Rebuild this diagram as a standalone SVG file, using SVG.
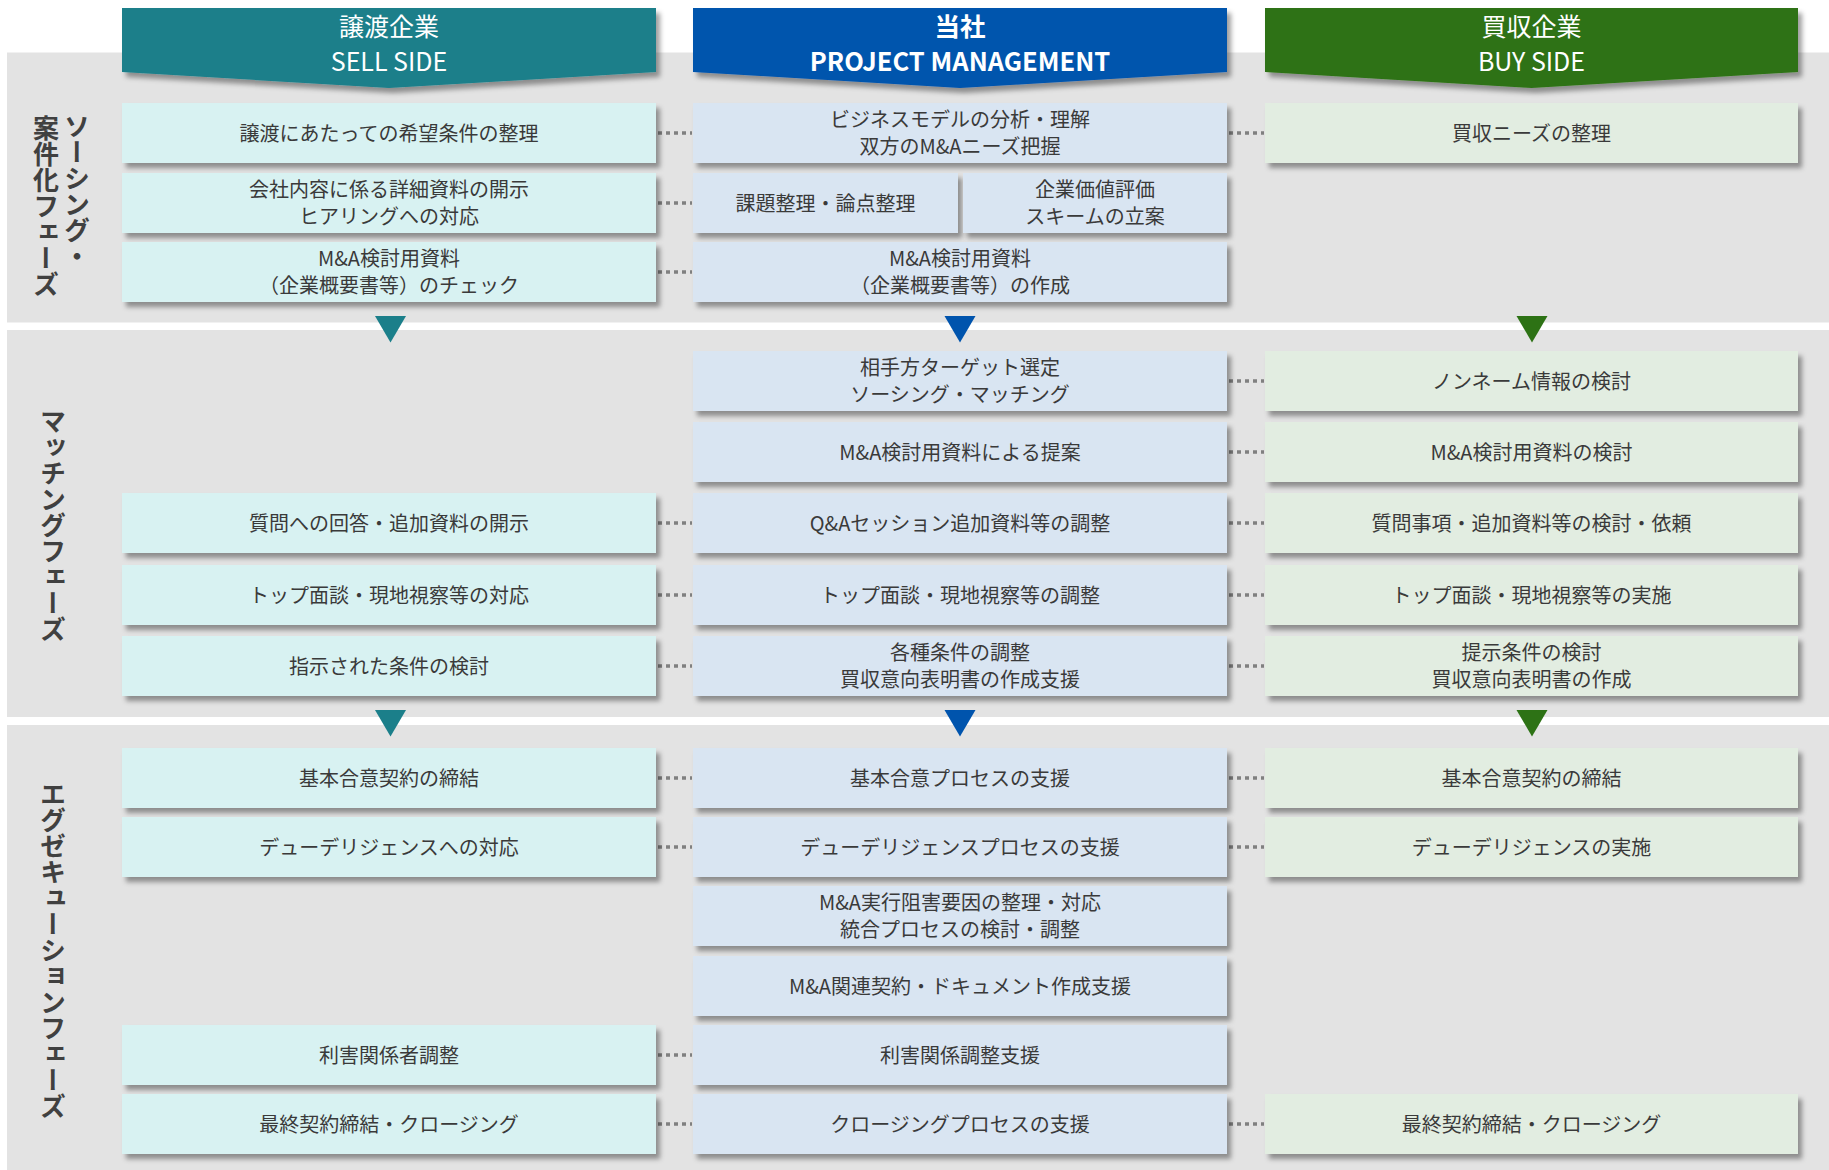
<svg xmlns="http://www.w3.org/2000/svg" width="1829" height="1170" viewBox="0 0 1829 1170">
<defs>
<filter id="sh" x="-5%" y="-20%" width="112%" height="150%">
<feDropShadow dx="4" dy="5" stdDeviation="2.5" flood-color="#000" flood-opacity="0.38"/>
</filter>
<style>
.band{fill:#e3e3e3}
.c1{fill:#d8f2f2;filter:url(#sh)}
.c2{fill:#d9e5f2;filter:url(#sh)}
.c3{fill:#e2ede1;filter:url(#sh)}
.t{font-family:"Noto Sans CJK JP","Noto Sans",sans-serif;font-size:20px;fill:#3a3a3a;text-anchor:middle}
.h{font-family:"Noto Sans CJK JP","Noto Sans",sans-serif;font-size:25px;fill:#fff;text-anchor:middle}
.hb{font-weight:bold;font-size:25.5px}
.v{font-family:"Noto Sans CJK JP",sans-serif;font-size:26px;font-weight:bold;fill:#404040;writing-mode:vertical-rl}
.dot{stroke:#808080;stroke-width:3.5;stroke-dasharray:4 4;fill:none}
</style>
</defs>
<g id="bands">
<rect class="band" x="7" y="52.5" width="1822" height="270"/>
<rect class="band" x="7" y="330" width="1822" height="387"/>
<rect class="band" x="7" y="725" width="1822" height="445"/>
</g>
<g id="phase-labels">
<text class="v" x="77" y="113">ソーシング・</text>
<text class="v" x="46" y="115">案件化フェーズ</text>
<text class="v" x="53" y="525" text-anchor="middle">マッチングフェーズ</text>
<text class="v" x="53" y="950" text-anchor="middle">エグゼキューションフェーズ</text>
</g>
<g id="header-sell">
<path d="M122 8H656V72L389 88L122 72Z" fill="#1b7f8a" filter="url(#sh)"/>
<text class="h" x="389" y="36">譲渡企業</text>
<text class="h" x="389" y="70.5">SELL SIDE</text>
</g>
<g id="header-pm">
<path d="M693 8H1227V72L960 88L693 72Z" fill="#0054ad" filter="url(#sh)"/>
<text class="h hb" x="960" y="35.5">当社</text>
<text class="h hb" x="960" y="71">PROJECT MANAGEMENT</text>
</g>
<g id="header-buy">
<path d="M1265 8H1798V72L1531.5 88L1265 72Z" fill="#2d7215" filter="url(#sh)"/>
<text class="h" x="1531.5" y="36">買収企業</text>
<text class="h" x="1531.5" y="70.5">BUY SIDE</text>
</g>
<g id="arrows">
<path d="M375 316H406L390.5 342.5Z" fill="#1b7f8a"/>
<path d="M944.5 316H975.5L960 342.5Z" fill="#0054ad"/>
<path d="M1516.5 316H1547.5L1532 342.5Z" fill="#2d7215"/>
<path d="M375 710H406L390.5 736.5Z" fill="#1b7f8a"/>
<path d="M944.5 710H975.5L960 736.5Z" fill="#0054ad"/>
<path d="M1516.5 710H1547.5L1532 736.5Z" fill="#2d7215"/>
</g>
<g id="connectors">
<path class="dot" d="M658 133H692M1229 133H1264"/>
<path class="dot" d="M658 203H692"/>
<path class="dot" d="M658 272H692"/>
<path class="dot" d="M1229 381H1264"/>
<path class="dot" d="M1229 452H1264"/>
<path class="dot" d="M658 523H692M1229 523H1264"/>
<path class="dot" d="M658 595H692M1229 595H1264"/>
<path class="dot" d="M658 666H692M1229 666H1264"/>
<path class="dot" d="M658 778H692M1229 778H1264"/>
<path class="dot" d="M658 847H692M1229 847H1264"/>
<path class="dot" d="M658 1055H692"/>
<path class="dot" d="M658 1124H692M1229 1124H1264"/>
</g>
<g id="s1-r1-sell"><rect class="c1" x="122" y="103" width="534" height="60"/><text class="t" x="389" y="140.5">譲渡にあたっての希望条件の整理</text></g>
<g id="s1-r1-pm"><rect class="c2" x="693" y="103" width="534" height="60"/><text class="t" x="960" y="127">ビジネスモデルの分析・理解</text><text class="t" x="960" y="154">双方のM&amp;Aニーズ把握</text></g>
<g id="s1-r1-buy"><rect class="c3" x="1265" y="103" width="533" height="60"/><text class="t" x="1531.5" y="140.5">買収ニーズの整理</text></g>
<g id="s1-r2-sell"><rect class="c1" x="122" y="173" width="534" height="60"/><text class="t" x="389" y="197">会社内容に係る詳細資料の開示</text><text class="t" x="389" y="224">ヒアリングへの対応</text></g>
<g id="s1-r2-pm-a"><rect class="c2" x="693" y="173" width="265" height="60"/><text class="t" x="825.5" y="210.5">課題整理・論点整理</text></g>
<g id="s1-r2-pm-b"><rect class="c2" x="963" y="173" width="264" height="60"/><text class="t" x="1095" y="197">企業価値評価</text><text class="t" x="1095" y="224">スキームの立案</text></g>
<g id="s1-r3-sell"><rect class="c1" x="122" y="242" width="534" height="60"/><text class="t" x="389" y="266">M&amp;A検討用資料</text><text class="t" x="389" y="293">（企業概要書等）のチェック</text></g>
<g id="s1-r3-pm"><rect class="c2" x="693" y="242" width="534" height="60"/><text class="t" x="960" y="266">M&amp;A検討用資料</text><text class="t" x="960" y="293">（企業概要書等）の作成</text></g>
<g id="s2-r1-pm"><rect class="c2" x="693" y="351" width="534" height="60"/><text class="t" x="960" y="375">相手方ターゲット選定</text><text class="t" x="960" y="402">ソーシング・マッチング</text></g>
<g id="s2-r1-buy"><rect class="c3" x="1265" y="351" width="533" height="60"/><text class="t" x="1531.5" y="388.5">ノンネーム情報の検討</text></g>
<g id="s2-r2-pm"><rect class="c2" x="693" y="422" width="534" height="60"/><text class="t" x="960" y="459.5">M&amp;A検討用資料による提案</text></g>
<g id="s2-r2-buy"><rect class="c3" x="1265" y="422" width="533" height="60"/><text class="t" x="1531.5" y="459.5">M&amp;A検討用資料の検討</text></g>
<g id="s2-r3-sell"><rect class="c1" x="122" y="493" width="534" height="60"/><text class="t" x="389" y="530.5">質問への回答・追加資料の開示</text></g>
<g id="s2-r3-pm"><rect class="c2" x="693" y="493" width="534" height="60"/><text class="t" x="960" y="530.5">Q&amp;Aセッション追加資料等の調整</text></g>
<g id="s2-r3-buy"><rect class="c3" x="1265" y="493" width="533" height="60"/><text class="t" x="1531.5" y="530.5">質問事項・追加資料等の検討・依頼</text></g>
<g id="s2-r4-sell"><rect class="c1" x="122" y="565" width="534" height="60"/><text class="t" x="389" y="602.5">トップ面談・現地視察等の対応</text></g>
<g id="s2-r4-pm"><rect class="c2" x="693" y="565" width="534" height="60"/><text class="t" x="960" y="602.5">トップ面談・現地視察等の調整</text></g>
<g id="s2-r4-buy"><rect class="c3" x="1265" y="565" width="533" height="60"/><text class="t" x="1531.5" y="602.5">トップ面談・現地視察等の実施</text></g>
<g id="s2-r5-sell"><rect class="c1" x="122" y="636" width="534" height="60"/><text class="t" x="389" y="673.5">指示された条件の検討</text></g>
<g id="s2-r5-pm"><rect class="c2" x="693" y="636" width="534" height="60"/><text class="t" x="960" y="660">各種条件の調整</text><text class="t" x="960" y="687">買収意向表明書の作成支援</text></g>
<g id="s2-r5-buy"><rect class="c3" x="1265" y="636" width="533" height="60"/><text class="t" x="1531.5" y="660">提示条件の検討</text><text class="t" x="1531.5" y="687">買収意向表明書の作成</text></g>
<g id="s3-r1-sell"><rect class="c1" x="122" y="748" width="534" height="60"/><text class="t" x="389" y="785.5">基本合意契約の締結</text></g>
<g id="s3-r1-pm"><rect class="c2" x="693" y="748" width="534" height="60"/><text class="t" x="960" y="785.5">基本合意プロセスの支援</text></g>
<g id="s3-r1-buy"><rect class="c3" x="1265" y="748" width="533" height="60"/><text class="t" x="1531.5" y="785.5">基本合意契約の締結</text></g>
<g id="s3-r2-sell"><rect class="c1" x="122" y="817" width="534" height="60"/><text class="t" x="389" y="854.5">デューデリジェンスへの対応</text></g>
<g id="s3-r2-pm"><rect class="c2" x="693" y="817" width="534" height="60"/><text class="t" x="960" y="854.5">デューデリジェンスプロセスの支援</text></g>
<g id="s3-r2-buy"><rect class="c3" x="1265" y="817" width="533" height="60"/><text class="t" x="1531.5" y="854.5">デューデリジェンスの実施</text></g>
<g id="s3-r3-pm"><rect class="c2" x="693" y="886" width="534" height="60"/><text class="t" x="960" y="910">M&amp;A実行阻害要因の整理・対応</text><text class="t" x="960" y="937">統合プロセスの検討・調整</text></g>
<g id="s3-r4-pm"><rect class="c2" x="693" y="956" width="534" height="60"/><text class="t" x="960" y="993.5">M&amp;A関連契約・ドキュメント作成支援</text></g>
<g id="s3-r5-sell"><rect class="c1" x="122" y="1025" width="534" height="60"/><text class="t" x="389" y="1062.5">利害関係者調整</text></g>
<g id="s3-r5-pm"><rect class="c2" x="693" y="1025" width="534" height="60"/><text class="t" x="960" y="1062.5">利害関係調整支援</text></g>
<g id="s3-r6-sell"><rect class="c1" x="122" y="1094" width="534" height="60"/><text class="t" x="389" y="1131.5">最終契約締結・クロージング</text></g>
<g id="s3-r6-pm"><rect class="c2" x="693" y="1094" width="534" height="60"/><text class="t" x="960" y="1131.5">クロージングプロセスの支援</text></g>
<g id="s3-r6-buy"><rect class="c3" x="1265" y="1094" width="533" height="60"/><text class="t" x="1531.5" y="1131.5">最終契約締結・クロージング</text></g>
</svg>
